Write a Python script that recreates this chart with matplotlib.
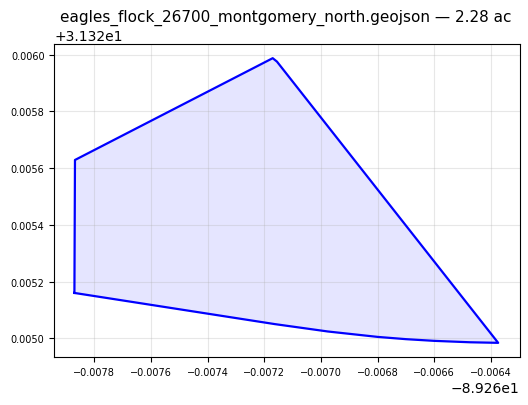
import matplotlib
matplotlib.use("Agg")
import matplotlib.pyplot as plt
import numpy as np

title = "eagles_flock_26700_montgomery_north.geojson — 2.28 ac"

lon_base = -89.26
lat_base = 31.32

# boundary ring, offsets from the base coordinates
lon_offset = [-0.007870, -0.007868, -0.007170, -0.007155, -0.006374, -0.006473, -0.006600,
              -0.006700, -0.006800, -0.006975, -0.007162, -0.007870]
lat_offset = [0.005160, 0.005629, 0.005988, 0.005976, 0.004984, 0.004986, 0.004991,
              0.004997, 0.005005, 0.005024, 0.005050, 0.005160]

lons = lon_base + np.array(lon_offset)
lats = lat_base + np.array(lat_offset)

fig = plt.figure(figsize=(5.28, 4.06), dpi=100)
ax = fig.add_axes([54.3 / 528, 1 - 358.3 / 406, (519.7 - 54.3) / 528, (358.3 - 45.3) / 406])

ax.fill(lons, lats, color="blue", alpha=0.1, linewidth=0)
ax.plot(lons, lats, color="blue", linewidth=1.6)

ax.set_xlim(lon_base - 0.007941, lon_base - 0.006298)
ax.set_ylim(lat_base + 0.004933, lat_base + 0.006037)
ax.set_title(title, fontsize=11, pad=6, x=0.498)
ax.tick_params(labelsize=7)
ax.grid(True, alpha=0.3)

fig.savefig("out.png", dpi=100)
